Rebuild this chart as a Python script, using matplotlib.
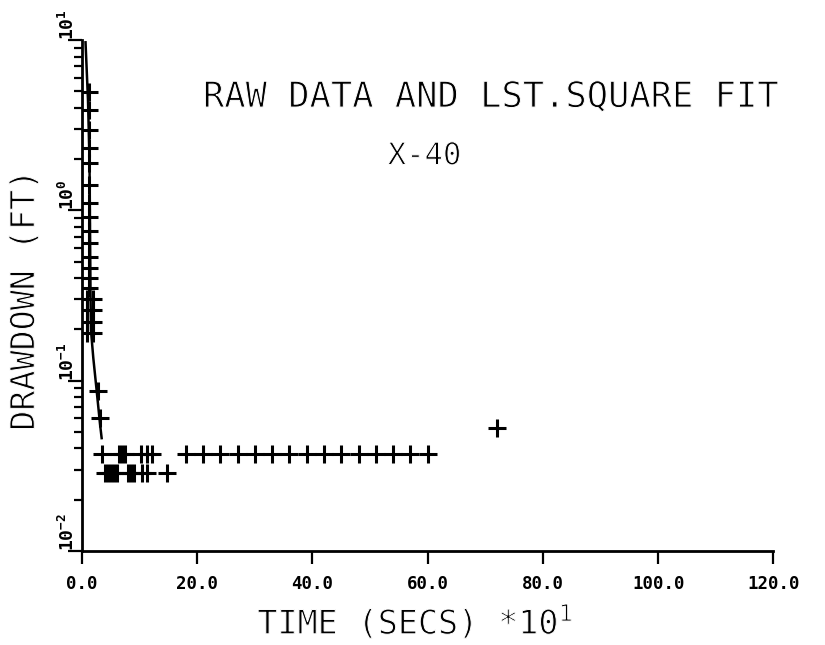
import matplotlib
matplotlib.use("Agg")
import matplotlib.pyplot as plt
import matplotlib.patheffects as pe
from matplotlib.ticker import LogLocator, NullFormatter, FixedLocator

plt.rcParams['font.family'] = ['DejaVu Sans Mono']
plt.rcParams['mathtext.default'] = 'regular'

# Early-time drawdown readings (time in units of 10 s, drawdown in ft)
early_time = [1.3, 1.3, 1.3, 1.3, 1.3, 1.3, 1.3, 1.3, 1.3, 1.3, 1.3, 1.3,
              1.3, 1.3, 0.9, 1.9, 0.9, 1.9, 0.9, 1.9, 0.9, 1.9, 2.75, 3.1]
early_drawdown = [4.94, 3.87, 2.96, 2.32, 1.89, 1.40, 1.11, 0.91, 0.76, 0.64,
                  0.53, 0.46, 0.40, 0.35, 0.30, 0.30, 0.26, 0.26, 0.22, 0.22,
                  0.19, 0.19, 0.087, 0.060]

# Late-time readings, upper level
upper_time = [3.4, 6.5, 7.0, 7.5, 10.3, 11.2, 12.1,
              18, 21, 24, 27, 30, 33, 36, 39, 42, 45, 48, 51, 54, 57, 60]
upper_drawdown = [0.037] * len(upper_time)

# Late-time readings, lower level
lower_time = [4.0, 4.5, 5.0, 5.5, 6.0, 8.0, 8.5, 9.0, 10.5, 11.3, 14.8]
lower_drawdown = [0.0288] * len(lower_time)

# Single outlying reading
outlier_time = [72.1]
outlier_drawdown = [0.053]

# Least-squares fit curve
fit_time = [0.61, 1.04, 1.30, 1.39, 1.47, 1.56, 1.96, 2.55, 3.12, 3.41]
fit_drawdown = [9.7, 4.44, 1.97, 0.76, 0.34, 0.197, 0.136, 0.087, 0.056, 0.046]

x_ticks = [0, 20, 40, 60, 80, 100, 120]
x_tick_labels = ["0.0", "20.0", "40.0", "60.0", "80.0", "100.0", "120.0"]
y_ticks = [1e-2, 1e-1, 1e0, 1e1]
y_tick_labels = ["$10^{-2}$", "$10^{-1}$", "$10^{0}$", "$10^{1}$"]

# thin pen-plotter look: erode glyph outlines with a white stroke
thin = [pe.Stroke(linewidth=0.7, foreground='white')]

fig = plt.figure(figsize=(8.25, 6.45), dpi=100)
ax = fig.add_axes([0.0994, 0.1457, 0.838, 0.7922])

mk = dict(linestyle='none', marker='+', color='black', markersize=13, markeredgewidth=2.2)
ax.plot(early_time, early_drawdown, **mk)
ax.plot(upper_time, upper_drawdown, **mk)
ax.plot(lower_time, lower_drawdown, **mk)
ax.plot(outlier_time, outlier_drawdown, **mk)
ax.plot(fit_time, fit_drawdown, color='black', linewidth=1.8)

ax.set_yscale('log')
ax.set_xlim(0, 120)
ax.set_ylim(1e-2, 1e1)

for side in ('top', 'right'):
    ax.spines[side].set_visible(False)
for side in ('left', 'bottom'):
    ax.spines[side].set_linewidth(2.0)

ax.xaxis.set_major_locator(FixedLocator(x_ticks))
ax.set_xticklabels(x_tick_labels, fontsize=12.5, fontweight='bold')
ax.tick_params(axis='x', direction='out', length=9, width=1.6, pad=8)

ax.yaxis.set_major_locator(FixedLocator(y_ticks))
ax.yaxis.set_minor_locator(LogLocator(base=10, subs=range(2, 10)))
ax.yaxis.set_minor_formatter(NullFormatter())
ax.set_yticklabels(y_tick_labels, fontsize=13, fontweight='bold', rotation=90,
                   va='bottom', ha='right')
ax.tick_params(axis='y', which='major', direction='out', length=10, width=1.6, pad=-7)
ax.tick_params(axis='y', which='minor', direction='out', length=5.5, width=1.6)

fig.text(0.246, 0.834, "RAW DATA AND LST.SQUARE FIT", fontsize=25.5,
         ha='left', va='baseline', path_effects=thin)
fig.text(0.470, 0.745, "X-40", fontsize=22, ha='left', va='baseline', path_effects=thin)
fig.text(0.030, 0.535, "DRAWDOWN (FT)", fontsize=24, rotation=90,
         ha='center', va='center', path_effects=thin)
fig.text(0.312, 0.017, "TIME (SECS) *10$^{1}$", fontsize=24,
         ha='left', va='baseline', path_effects=thin)

fig.savefig("out.png", dpi=100)
